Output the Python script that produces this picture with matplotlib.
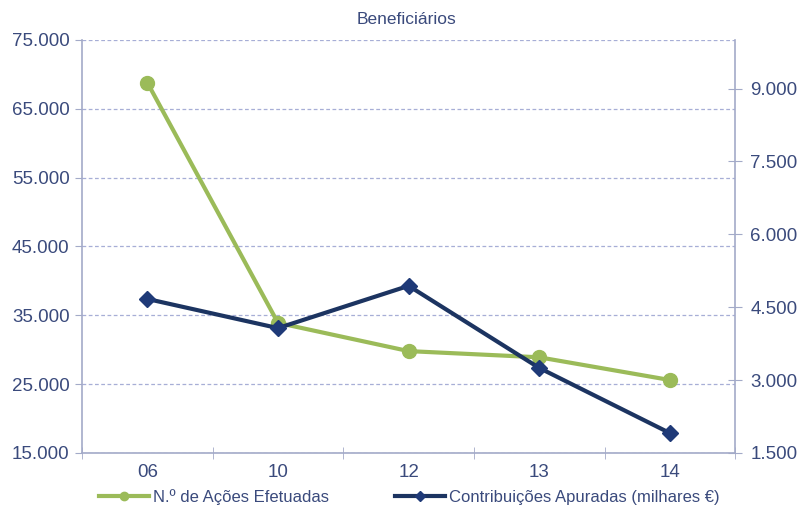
import numpy as np
import matplotlib
matplotlib.use("Agg")
import matplotlib.pyplot as plt
from matplotlib.ticker import FuncFormatter

plt.rcParams['font.family'] = ['Liberation Sans', 'DejaVu Sans']

anos = ['06', '10', '12', '13', '14']
acoes = [68800, 33900, 29800, 28900, 25600]
contribuicoes = [4670, 4070, 4940, 3250, 1910]

verde = '#9BBB59'
navy = '#1C3461'
txt = '#3A4A7C'
eixo = '#A3AAC8'

def milhar(v, pos):
    return f"{int(v):,}".replace(',', '.')

fig = plt.figure(figsize=(7.98, 5.08), dpi=100)
ax = fig.add_axes([0.1028, 0.1083, 0.8185, 0.813])
ax2 = ax.twinx()

x = np.arange(len(anos))
ax.plot(x, acoes, color=verde, lw=3, marker='o', ms=10, zorder=3,
        label='N.º de Ações Efetuadas')
ax2.plot(x, contribuicoes, color=navy, lw=3, marker='D', ms=8,
         markerfacecolor='#1F3A78', markeredgecolor='#1F3A78', zorder=3,
         label='Contribuições Apuradas (milhares €)')

ax.set_xlim(-0.5, len(anos) - 0.5)
ax.set_ylim(15000, 75000)
ax.set_yticks(np.arange(15000, 75001, 10000))
ax2.set_ylim(1500, 10000)
ax2.set_yticks(np.arange(1500, 9001, 1500))
ax.yaxis.set_major_formatter(FuncFormatter(milhar))
ax2.yaxis.set_major_formatter(FuncFormatter(milhar))

ax.set_xticks(x)
ax.set_xticklabels(anos)
ax.set_xticks(np.arange(-0.5, len(anos), 1), minor=True)
ax.tick_params(axis='x', which='major', length=0, pad=8, labelsize=13.5, labelcolor=txt)
ax.tick_params(axis='x', which='minor', length=8, direction='inout', color=eixo)
ax.tick_params(axis='y', length=5, direction='out', color=eixo, labelsize=13.5,
               labelcolor=txt, pad=4)
ax2.tick_params(axis='y', length=10, direction='inout', color=eixo, labelsize=13.5,
                labelcolor=txt, pad=6)

ax.grid(axis='y', color='#A7AED6', ls=(0, (3, 2)), lw=0.9)
ax.set_axisbelow(True)
for a in (ax, ax2):
    a.spines['top'].set_visible(False)
    for s in ('left', 'right', 'bottom'):
        a.spines[s].set_color(eixo)
        a.spines[s].set_linewidth(1.2)
ax.spines['right'].set_visible(False)
ax2.spines['left'].set_visible(False)
ax2.spines['bottom'].set_visible(False)

fig.text(0.51, 0.962, 'Beneficiários', ha='center', va='center', fontsize=12.5, color=txt)

h1, l1 = ax.get_legend_handles_labels()
h2, l2 = ax2.get_legend_handles_labels()
leg = fig.legend(h1 + h2, l1 + l2, loc='lower center', ncol=2, frameon=False,
                 bbox_to_anchor=(0.513, -0.024), fontsize=12, handlelength=3,
                 handletextpad=0.2, markerscale=0.6, columnspacing=4, labelcolor=txt)

fig.savefig('out.png', dpi=100)
